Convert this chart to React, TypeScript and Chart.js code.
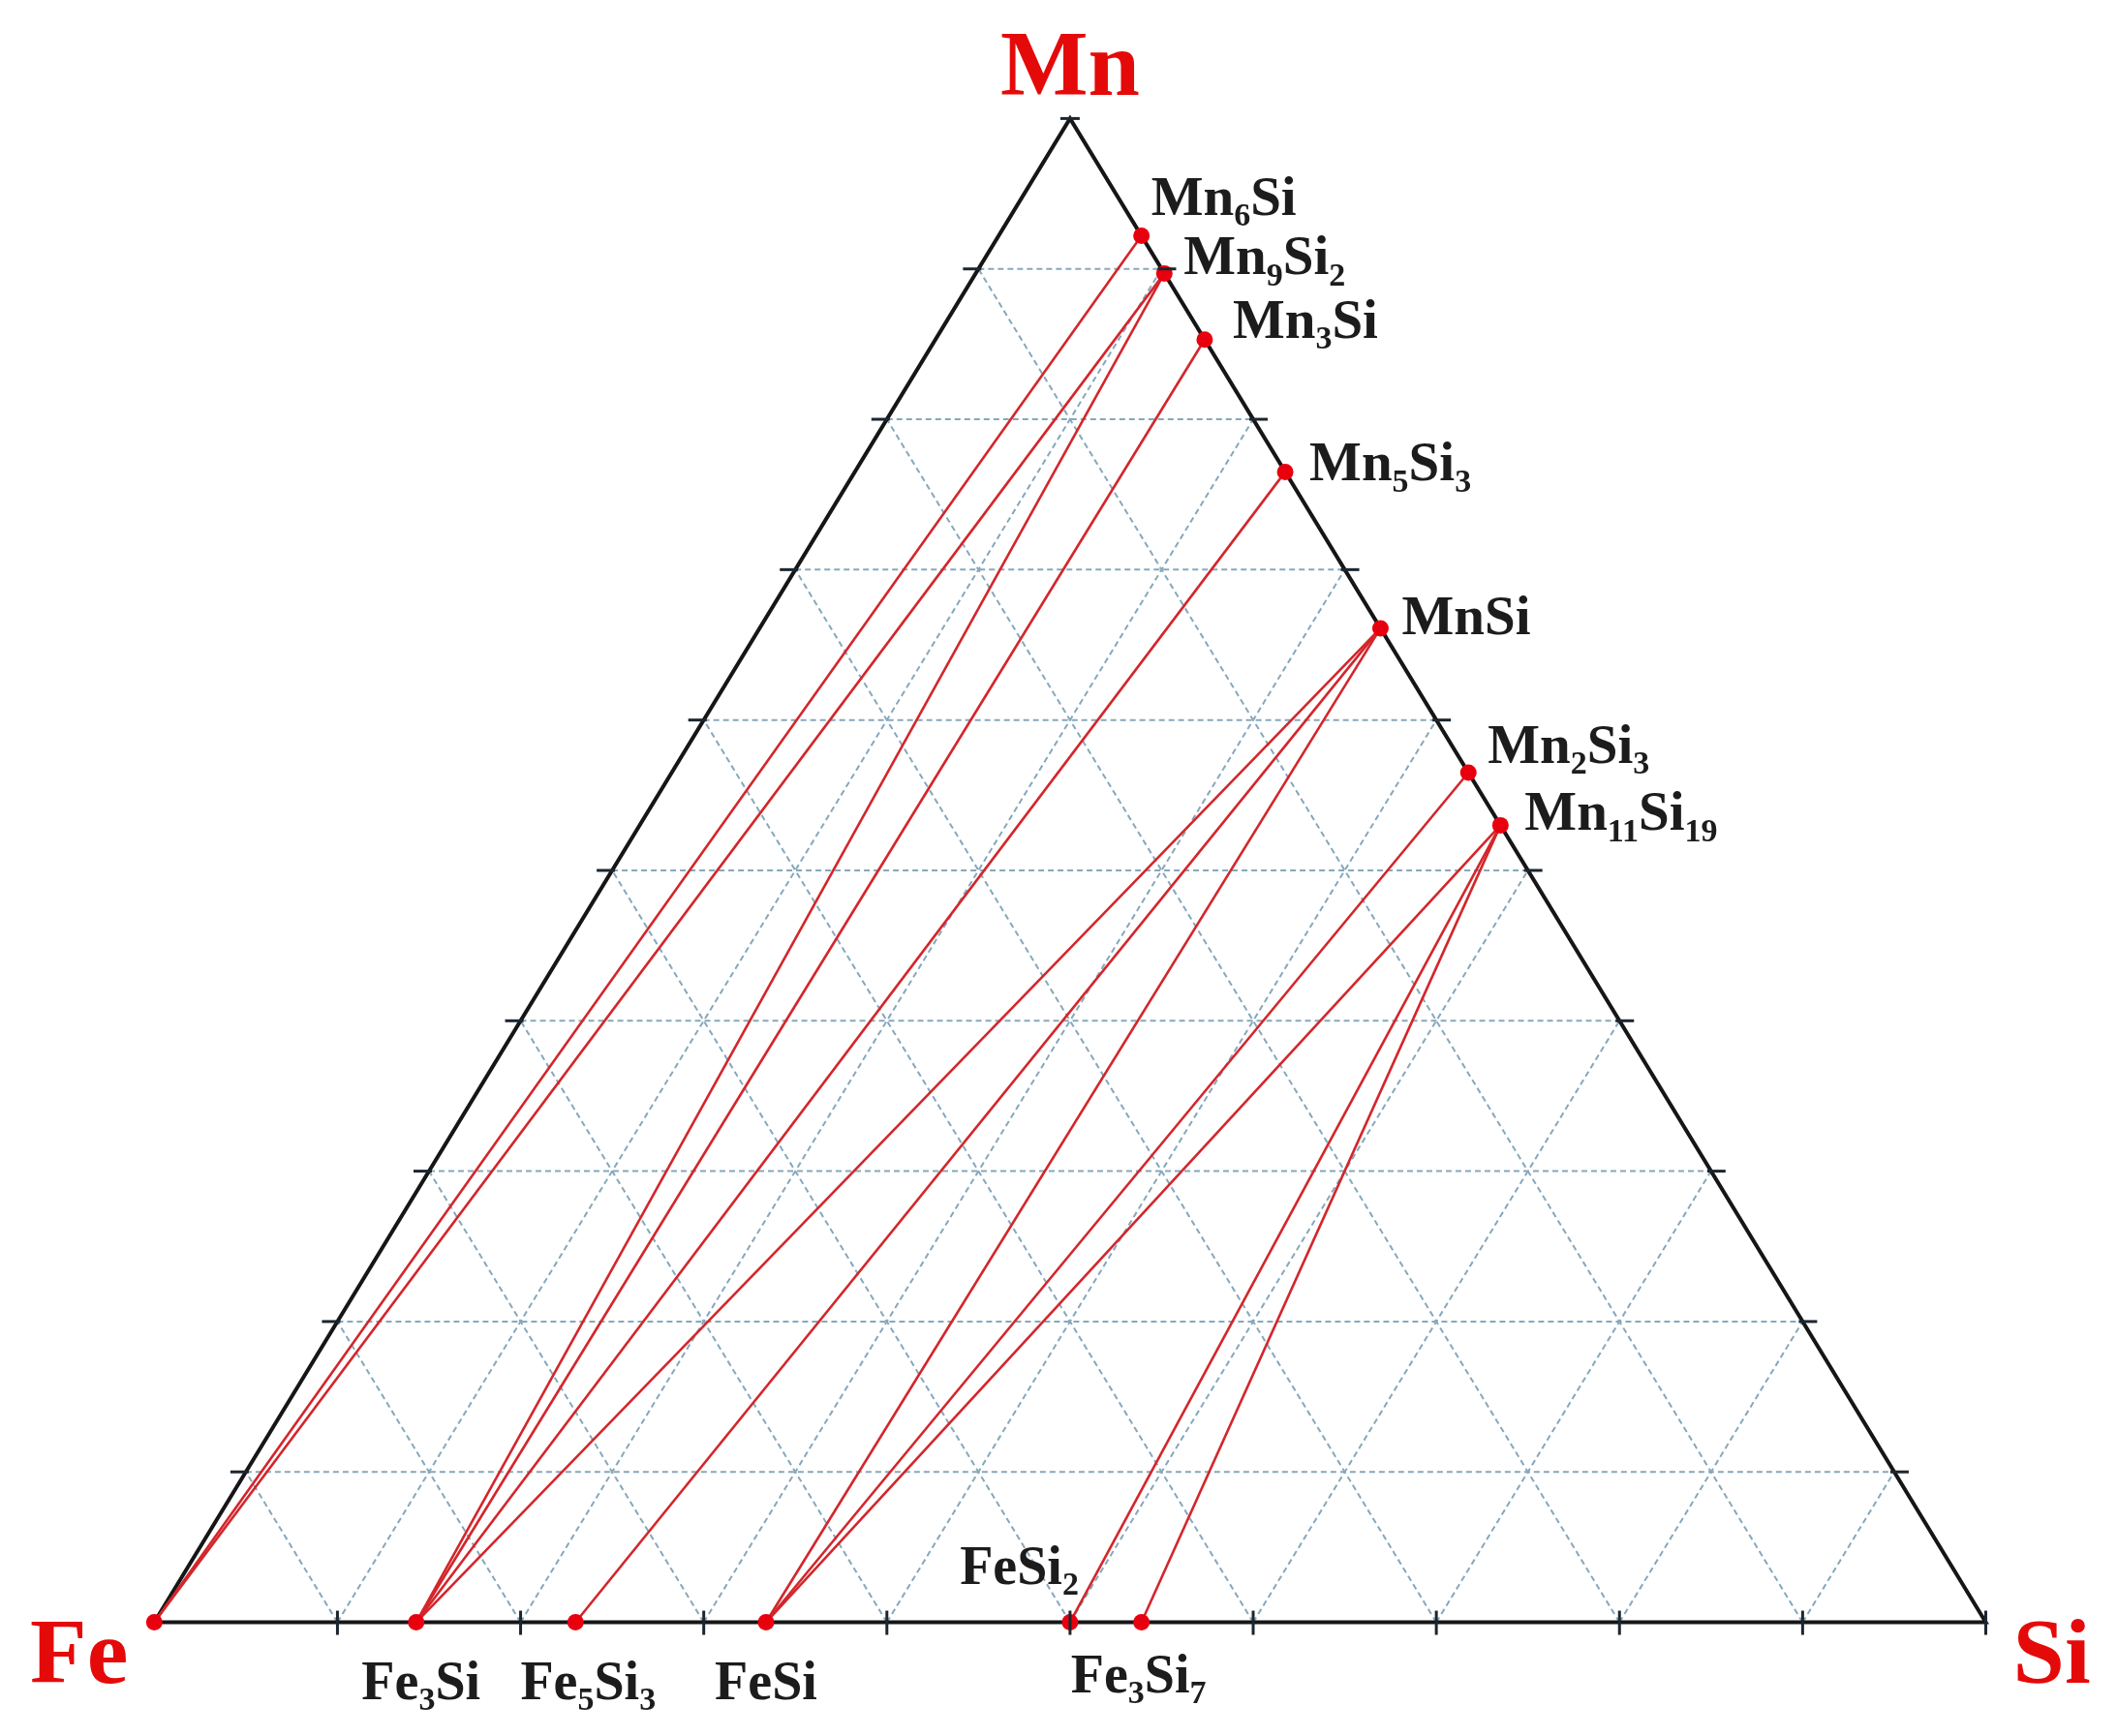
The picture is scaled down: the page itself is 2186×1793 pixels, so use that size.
import React, { useEffect, useRef } from "react";
import { Chart, registerables } from "chart.js";

Chart.register(...registerables);

const W = 2186;
const H = 1793;

// ---- Data (weight % Si) ----
const vertexNames = ["Fe", "Si", "Mn"];
const feSiPhases = ["Fe", "Fe3Si", "Fe5Si3", "FeSi", "FeSi2", "Fe3Si7"];
const feSiSiWt = [0, 14.3, 23.0, 33.4, 50.0, 53.9];
const mnSiPhases = ["Mn6Si", "Mn9Si2", "Mn3Si", "Mn5Si3", "MnSi", "Mn2Si3", "Mn11Si19"];
const mnSiSiWt = [7.8, 10.3, 14.7, 23.5, 33.9, 43.5, 47.0];
const tieFrom = ["Fe", "Fe", "Fe3Si", "Fe3Si", "Fe3Si", "Fe3Si", "Fe5Si3", "FeSi", "FeSi", "FeSi", "FeSi2", "Fe3Si7"];
const tieTo = ["Mn6Si", "Mn9Si2", "Mn9Si2", "Mn3Si", "Mn5Si3", "MnSi", "MnSi", "MnSi", "Mn2Si3", "Mn11Si19", "Mn11Si19", "Mn11Si19"];
const gridSteps = [10, 20, 30, 40, 50, 60, 70, 80, 90];

// ---- Label placement (styling) ----
type Place = { dx: number; dy: number; align: "left" | "center" | "right" };
const fePlace: Record<string, Place> = {
  Fe3Si: { dx: 5, dy: 79, align: "center" },
  Fe5Si3: { dx: 13, dy: 79, align: "center" },
  FeSi: { dx: 0, dy: 79, align: "center" },
  FeSi2: { dx: 9, dy: -40, align: "right" },
  Fe3Si7: { dx: -3, dy: 72, align: "center" },
};
const mnPlace: Record<string, Place> = {
  Mn6Si: { dx: 10, dy: -22, align: "left" },
  Mn9Si2: { dx: 20, dy: 1, align: "left" },
  Mn3Si: { dx: 29, dy: -2, align: "left" },
  Mn5Si3: { dx: 25, dy: 9, align: "left" },
  MnSi: { dx: 22, dy: 6, align: "left" },
  Mn2Si3: { dx: 20, dy: -10, align: "left" },
  Mn11Si19: { dx: 25, dy: 5, align: "left" },
};

// composition (wt% Si, wt% Mn) -> cartesian
function tern(si: number, mn: number) {
  const s = si / 100;
  const m = mn / 100;
  return { x: s + m / 2, y: m };
}
const fePoint = (si: number) => tern(si, 0);
const mnPoint = (si: number) => tern(si, 100 - si);

const SERIF = '"Liberation Serif", "Times New Roman", serif';

function drawFormula(ctx: CanvasRenderingContext2D, text: string, x: number, y: number, align: string, size: number, color: string) {
  const tokens = text.match(/[A-Za-z]+|\d+/g) || [];
  const big = `bold ${size}px ${SERIF}`;
  const small = `bold ${Math.round(size * 0.6)}px ${SERIF}`;
  let total = 0;
  const widths: number[] = [];
  for (const t of tokens) {
    ctx.font = /\d/.test(t) ? small : big;
    const w = ctx.measureText(t).width;
    widths.push(w);
    total += w;
  }
  let sx = align === "left" ? x : align === "right" ? x - total : x - total / 2;
  ctx.fillStyle = color;
  ctx.textBaseline = "alphabetic";
  ctx.textAlign = "left";
  tokens.forEach((t, i) => {
    const sub = /\d/.test(t);
    ctx.font = sub ? small : big;
    ctx.fillText(t, sx, sub ? y + size * 0.2 : y);
    sx += widths[i];
  });
}

const overlayPlugin = {
  id: "ternaryOverlay",
  afterDatasetsDraw(chart: any) {
    const ctx: CanvasRenderingContext2D = chart.ctx;
    const xs = chart.scales.x;
    const ys = chart.scales.y;
    const px = (p: { x: number; y: number }) => [xs.getPixelForValue(p.x), ys.getPixelForValue(p.y)];
    ctx.save();
    // ticks
    ctx.strokeStyle = "#1c2630";
    ctx.lineWidth = 3;
    ctx.lineCap = "butt";
    const seg = (x1: number, y1: number, x2: number, y2: number) => {
      ctx.beginPath();
      ctx.moveTo(x1, y1);
      ctx.lineTo(x2, y2);
      ctx.stroke();
    };
    for (const k of [...gridSteps, 100]) {
      const [bx, by] = px(tern(k, 0));
      seg(bx, by - 12, bx, by + 13);
    }
    for (const k of gridSteps) {
      const [lx, ly] = px(tern(0, k));
      seg(lx - 16, ly, lx + 3, ly);
      const [rx, ry] = px(tern(100 - k, k));
      seg(rx - 4, ry, rx + 15, ry);
    }
    const [ax, ay] = px(tern(0, 100));
    seg(ax - 10, ay, ax + 10, ay);
    ctx.restore();

    ctx.save();
    // compound labels
    feSiPhases.forEach((name, i) => {
      const pl = fePlace[name];
      if (!pl) return;
      const [x, y] = px(fePoint(feSiSiWt[i]));
      drawFormula(ctx, name, x + pl.dx, y + pl.dy, pl.align, 56, "#1c1c1c");
    });
    mnSiPhases.forEach((name, i) => {
      const pl = mnPlace[name];
      const [x, y] = px(mnPoint(mnSiSiWt[i]));
      drawFormula(ctx, name, x + pl.dx, y + pl.dy, pl.align, 57, "#1c1c1c");
    });
    // vertex labels
    const red = "#e50a0a";
    const [fx, fy] = px(tern(0, 0));
    drawFormula(ctx, vertexNames[0], fx - 27, fy + 62, "right", 96, red);
    const [sx, sy] = px(tern(100, 0));
    drawFormula(ctx, vertexNames[1], sx + 28, sy + 62, "left", 96, red);
    drawFormula(ctx, vertexNames[2], ax, ay - 24, "center", 96, red);
    ctx.restore();
  },
};

export default function App() {
  const ref = useRef<HTMLCanvasElement | null>(null);
  useEffect(() => {
    if (!ref.current) return;
    const datasets: any[] = [];
    // grid lines
    for (const k of gridSteps) {
      const lines = [
        [tern(0, k), tern(100 - k, k)], // constant Mn
        [tern(k, 0), tern(k, 100 - k)], // constant Si
        [tern(100 - k, 0), tern(0, 100 - k)], // constant Fe
      ];
      for (const l of lines) {
        datasets.push({
          data: l,
          showLine: true,
          borderColor: "#86a8bc",
          borderWidth: 2,
          borderDash: [6, 4],
          pointRadius: 0,
          order: 4,
        });
      }
    }
    // triangle frame
    datasets.push({
      data: [tern(0, 0), tern(100, 0), tern(0, 100), tern(0, 0)],
      showLine: true,
      borderColor: "#161616",
      borderWidth: 4,
      pointRadius: 0,
      order: 3,
    });
    // tie lines
    tieFrom.forEach((f, i) => {
      const a = fePoint(feSiSiWt[feSiPhases.indexOf(f)]);
      const b = mnPoint(mnSiSiWt[mnSiPhases.indexOf(tieTo[i])]);
      datasets.push({
        data: [a, b],
        showLine: true,
        borderColor: "#d3262b",
        borderWidth: 2.6,
        pointRadius: 0,
        order: 2,
      });
    });
    // compound dots
    datasets.push({
      data: [...feSiSiWt.map(fePoint), ...mnSiSiWt.map(mnPoint)],
      showLine: false,
      pointRadius: 8.5,
      pointBackgroundColor: "#e8000f",
      pointBorderWidth: 0,
      order: 1,
    });

    const chart = new Chart(ref.current, {
      type: "scatter",
      data: { datasets },
      options: {
        animation: false,
        responsive: false,
        devicePixelRatio: 1,
        layout: { padding: 0 },
        plugins: { legend: { display: false }, tooltip: { enabled: false } },
        events: [],
        scales: {
          x: { type: "linear", display: false, min: -152 / 1906, max: (W - 152) / 1906 },
          y: { type: "linear", display: false, min: -(H - 1683) / 1568, max: 1683 / 1568 },
        },
      },
      plugins: [overlayPlugin],
    } as any);
    return () => chart.destroy();
  }, []);
  return (
    <div style={{ position: "absolute", left: 0, top: 0, width: W, height: H, background: "#ffffff" }}>
      <canvas ref={ref} width={W} height={H} style={{ display: "block" }} />
    </div>
  );
}
